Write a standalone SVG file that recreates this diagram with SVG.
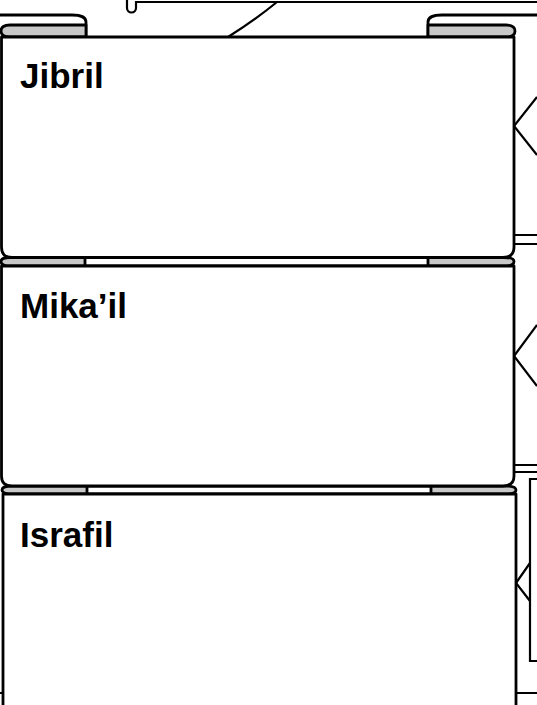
<svg xmlns="http://www.w3.org/2000/svg" width="537" height="705" viewBox="0 0 537 705">
<style>
.o{fill:none;stroke:#000;stroke-width:2.8;stroke-linejoin:round}
.w{fill:#fff;stroke:#000;stroke-width:2.8;stroke-linejoin:round}
.g{fill:#c8c8c8;stroke:#000;stroke-width:2.8;stroke-linejoin:round}
.t{font-family:"Liberation Sans",Arial,sans-serif;font-weight:bold;font-size:35px;fill:#000}
.c{fill:none;stroke:#000;stroke-width:2.2}
</style>
<rect width="537" height="705" fill="#fff"/>
<g id="connectors">
<path class="c" d="M127,0 L127,8 A4.5,4.5 0 0 0 136,8 L136,2 L537,2"/>
<path class="c" d="M228,37 Q255,20 277,2"/>
<path class="c" d="M537,97 L514,126 L537,155"/>
<path class="c" d="M537,325 L514,356 L537,386"/>
<path class="c" d="M514,235 L537,235 M514,244 L537,244"/>
<path class="c" d="M514,465 L537,465 M514,472 L537,472"/>
<path class="c" d="M537,479 L530,479 L530,661 L537,661"/>
<path class="c" d="M530,563 L516,583 L530,601"/>
<path class="c" d="M516,693 L537,693 M0,693 L3,693"/>
</g>
<g id="caps">
<path class="o" d="M0,15 L72,15 Q86,15 86,22 L86,37"/>
<path class="g" d="M86,25 L10,25 Q1,25 1,31 Q1,37 10,37 L86,37 Z"/>
<path class="o" d="M537,15 L442,15 Q428,15 428,22 L428,37"/>
<path class="g" d="M428,25 L506,25 Q515,25 515,31 Q515,37 506,37 L428,37 Z"/>
</g>
<g id="band1">
<path class="g" d="M10,257.5 L504,257.5 Q514,257.5 514,261.5 Q514,266 504,266 L10,266 Q1,266 1,261.5 Q1,257.5 10,257.5 Z"/>
<rect class="w" x="85" y="257.5" width="343" height="8.5"/>
</g>
<g id="band2">
<path class="g" d="M12,486 L506,486 Q516,486 516,490 Q516,494 506,494 L12,494 Q2,494 2,490 Q2,486 12,486 Z"/>
<rect class="w" x="87" y="486" width="344" height="8"/>
</g>
<g id="jibril">
<path class="w" d="M1.5,37 L514,37 L514,247 Q514,257.5 503,257.5 L12,257.5 Q1.5,257.5 1.5,247 Z"/>
<text class="t" x="20" y="88">Jibril</text>
</g>
<g id="mikail">
<path class="w" d="M1.5,266 L514,266 L514,476 Q514,486 503,486 L12,486 Q1.5,486 1.5,476 Z"/>
<text class="t" x="20" y="318">Mika’il</text>
</g>
<g id="israfil">
<path class="w" d="M3,494 L516,494 L516,710 L3,710 Z"/>
<text class="t" x="20" y="547">Israfil</text>
</g>
</svg>
